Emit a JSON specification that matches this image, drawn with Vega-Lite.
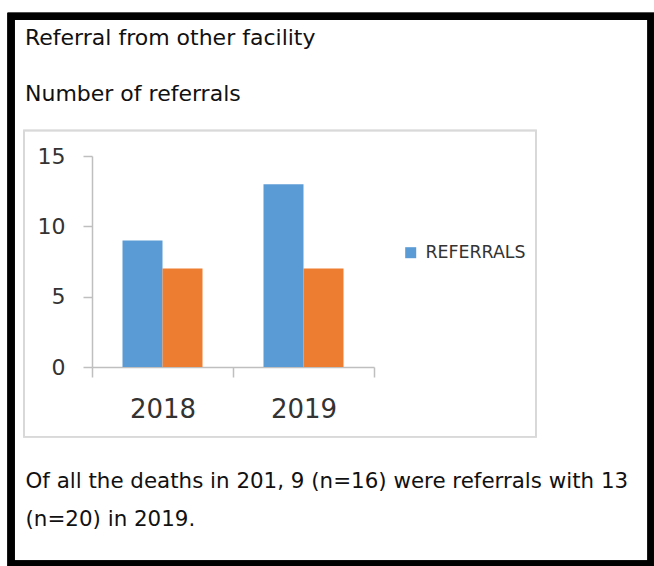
{
  "$schema": "https://vega.github.io/schema/vega-lite/v6.json",
  "width": 282,
  "height": 211,
  "autosize": {"type": "none"},
  "padding": {"left": 92, "top": 156, "right": 280, "bottom": 199},
  "background": "white",
  "title": {
    "text": "Referral from other facility",
    "subtitle": "Number of referrals",
    "anchor": "start",
    "frame": "group",
    "orient": "top",
    "dx": -67,
    "offset": -93,
    "font": "DejaVu Sans",
    "fontSize": 22,
    "fontWeight": "normal",
    "color": "#111111",
    "subtitleFont": "DejaVu Sans",
    "subtitleFontSize": 22,
    "subtitleColor": "#111111",
    "subtitlePadding": 34
  },
  "data": {
    "values": [
      {"year": "2018", "series": "REFERRALS", "count": 9},
      {"year": "2018", "series": "NON-REFERRALS", "count": 7},
      {"year": "2019", "series": "REFERRALS", "count": 13},
      {"year": "2019", "series": "NON-REFERRALS", "count": 7}
    ]
  },
  "resolve": {"scale": {"x": "independent"}},
  "layer": [
    {
      "mark": {"type": "rect", "fillOpacity": 0, "stroke": "#d9d9d9", "strokeWidth": 1.5},
      "encoding": {
        "x": {"datum": -0.482, "type": "quantitative", "scale": {"domain": [0, 2]}, "axis": null},
        "x2": {"datum": 3.149},
        "y": {"datum": 16.81, "type": "quantitative", "scale": {"domain": [0, 15], "nice": false}},
        "y2": {"datum": -4.96}
      }
    },
    {
      "mark": {"type": "rect", "fillOpacity": 0, "stroke": "black", "strokeWidth": 7},
      "encoding": {
        "x": {"datum": -0.574, "type": "quantitative", "scale": {"domain": [0, 2]}, "axis": null},
        "x2": {"datum": 3.965},
        "y": {"datum": 24.93, "type": "quantitative", "scale": {"domain": [0, 15], "nice": false}},
        "y2": {"datum": -14.0}
      }
    },
    {
      "mark": {"type": "bar"},
      "encoding": {
        "x": {
          "field": "year",
          "type": "nominal",
          "scale": {"paddingInner": 0, "paddingOuter": 0},
          "axis": {
            "title": ["Of all the deaths in 201, 9 (n=16) were referrals with 13", "(n=20) in 2019."],
            "titleX": -67,
            "titleY": 103,
            "titleAlign": "left",
            "titleAnchor": "start",
            "titleBaseline": "top",
            "titleFont": "DejaVu Sans",
            "titleFontSize": 21.4,
            "titleFontWeight": "normal",
            "titleColor": "#111111",
            "titleLineHeight": 38,
            "tickBand": "extent",
            "tickSize": 10,
            "tickColor": "#bfbfbf",
            "tickWidth": 1.5,
            "domainColor": "#bfbfbf",
            "domainWidth": 1.5,
            "labelAngle": 0,
            "labelFont": "DejaVu Sans",
            "labelFontSize": 26,
            "labelColor": "#333333",
            "labelPadding": 19
          }
        },
        "xOffset": {
          "field": "series",
          "type": "nominal",
          "scale": {"domain": ["REFERRALS", "NON-REFERRALS"], "paddingInner": 0, "paddingOuter": 0.7625}
        },
        "y": {
          "field": "count",
          "type": "quantitative",
          "scale": {"domain": [0, 15], "nice": false},
          "axis": {
            "title": null,
            "values": [0, 5, 10, 15],
            "grid": false,
            "tickSize": 9,
            "tickColor": "#bfbfbf",
            "tickWidth": 1.5,
            "domainColor": "#bfbfbf",
            "domainWidth": 1.5,
            "labelFont": "DejaVu Sans",
            "labelFontSize": 22,
            "labelColor": "#333333",
            "labelPadding": 18
          }
        },
        "color": {
          "field": "series",
          "type": "nominal",
          "scale": {"domain": ["REFERRALS", "NON-REFERRALS"], "range": ["#5B9BD5", "#ED7D31"]},
          "legend": {
            "values": ["REFERRALS"],
            "title": null,
            "orient": "none",
            "legendX": 310,
            "legendY": 88,
            "padding": 0,
            "symbolType": "square",
            "symbolSize": 121,
            "symbolStrokeWidth": 0,
            "symbolOpacity": 1,
            "labelFont": "DejaVu Sans",
            "labelFontSize": 17.4,
            "labelColor": "#333333",
            "labelOffset": 6
          }
        }
      }
    }
  ],
  "config": {
    "view": {"stroke": null}
  }
}
